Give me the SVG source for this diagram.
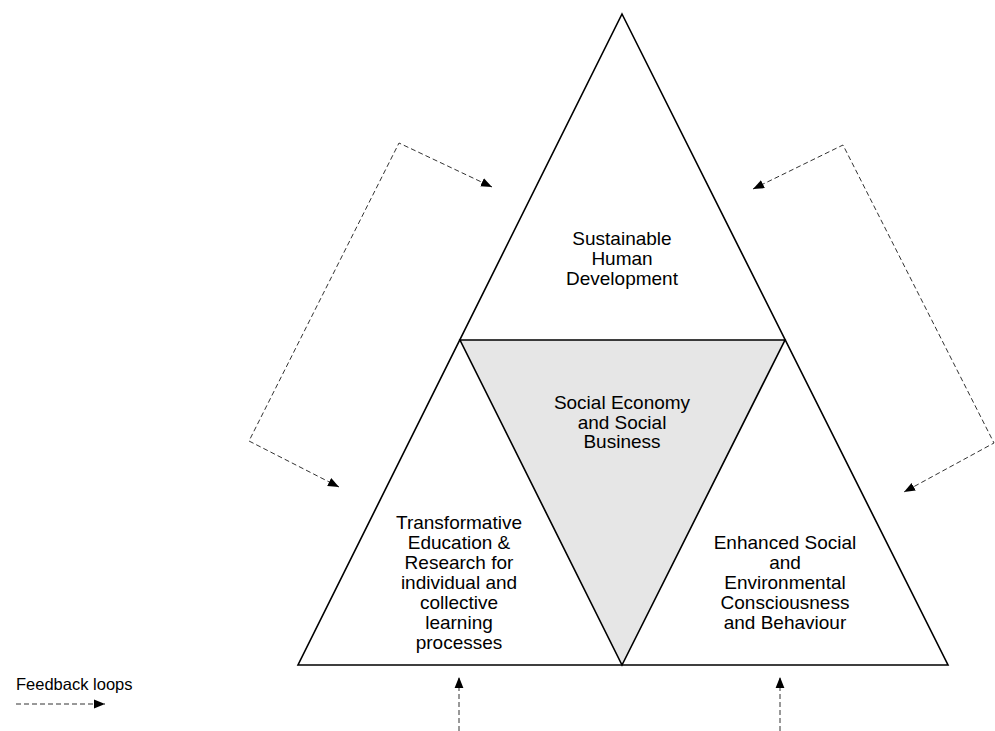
<svg xmlns="http://www.w3.org/2000/svg" width="995" height="731" viewBox="0 0 995 731">
<style>
.tri{fill:none;stroke:#000;stroke-width:1.6;stroke-linejoin:miter}
.inner{fill:#e6e6e6;stroke:#000;stroke-width:1.6}
.loop{fill:none;stroke:#333;stroke-width:1;stroke-dasharray:5,3}
text{font-family:"Liberation Sans",Arial,sans-serif;font-size:19px;fill:#000;text-anchor:middle}
.leg{font-size:16.5px;text-anchor:start}
</style>
<defs>
<marker id="ah" viewBox="0 0 10 10" refX="10" refY="5" markerWidth="11" markerHeight="11" markerUnits="userSpaceOnUse" orient="auto-start-reverse">
<path d="M0,1 L10,5 L0,9 Z" fill="#000"/>
</marker>
</defs>
<rect width="995" height="731" fill="#fff"/>
<g id="triangle">
<polygon class="tri" points="622,14 948,665 298,665"/>
</g>
<g id="social-economy">
<polygon class="inner" points="460,340 785,340 622,665"/>
<text x="622" y="409">Social Economy</text>
<text x="622" y="429">and Social</text>
<text x="622" y="448">Business</text>
</g>
<g id="sustainable">
<text x="622" y="245">Sustainable</text>
<text x="622" y="265">Human</text>
<text x="622" y="285">Development</text>
</g>
<g id="education">
<text x="459" y="529">Transformative</text>
<text x="459" y="549">Education &amp;</text>
<text x="459" y="569">Research for</text>
<text x="459" y="589">individual and</text>
<text x="459" y="609">collective</text>
<text x="459" y="629">learning</text>
<text x="459" y="649">processes</text>
</g>
<g id="consciousness">
<text x="785" y="549">Enhanced Social</text>
<text x="785" y="569">and</text>
<text x="785" y="589">Environmental</text>
<text x="785" y="609">Consciousness</text>
<text x="785" y="629">and Behaviour</text>
</g>
<g id="connectors">
<polyline class="loop" points="339,487 249,441 399,143 492,187" marker-start="url(#ah)" marker-end="url(#ah)"/>
<polyline class="loop" points="753,189 843,145 994,443 904,492" marker-start="url(#ah)" marker-end="url(#ah)"/>
<line class="loop" x1="459" y1="731" x2="459" y2="677" marker-end="url(#ah)"/>
<line class="loop" x1="780" y1="731" x2="780" y2="677" marker-end="url(#ah)"/>
</g>
<g id="legend">
<text class="leg" x="16" y="690">Feedback loops</text>
<line class="loop" x1="16" y1="704" x2="105" y2="704" marker-end="url(#ah)"/>
</g>
</svg>
